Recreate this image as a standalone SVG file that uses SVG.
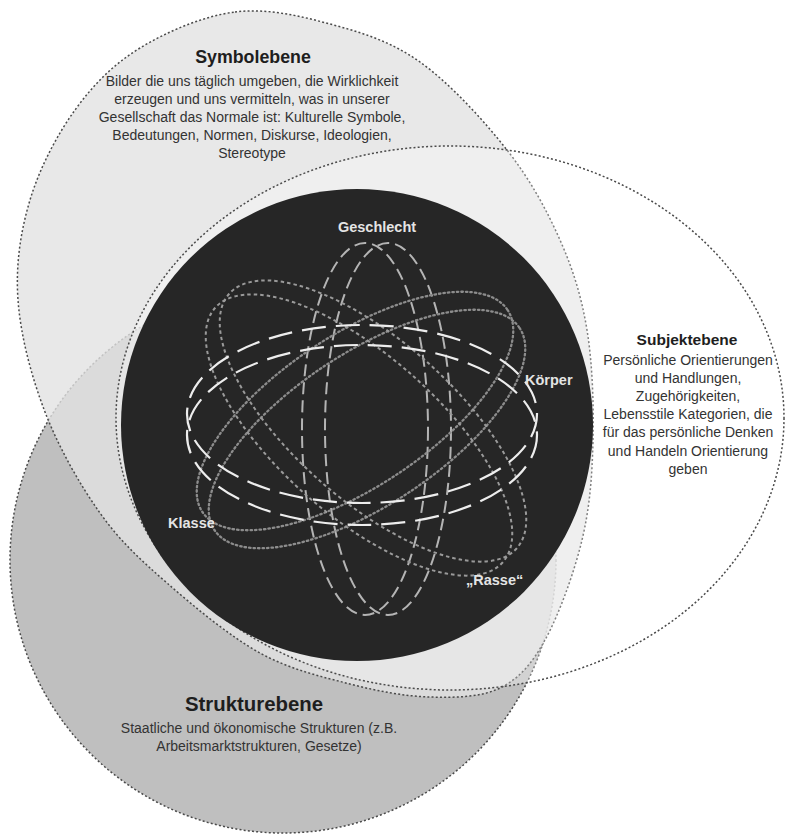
<svg xmlns="http://www.w3.org/2000/svg" width="786" height="838" viewBox="0 0 786 838">
<style>
.border{stroke:#4a4a4a;stroke-width:1.5;stroke-dasharray:2 2.2;}
.title{font-family:"Liberation Sans",Arial,sans-serif;font-weight:bold;fill:#1e1e1e;text-anchor:middle;}
.body{font-family:"Liberation Sans",Arial,sans-serif;font-size:14px;fill:#333;text-anchor:middle;}
.lbl{font-family:"Liberation Sans",Arial,sans-serif;font-weight:bold;font-size:14.5px;fill:#e4e4e4;}
.orb{fill:none;}
.gesch{stroke:#b4b4b4;stroke-width:2;stroke-dasharray:12 6;}
.koer{stroke:#ededed;stroke-width:2.2;stroke-dasharray:24 10;}
.klas{stroke:#8c8c8c;stroke-width:2.3;stroke-dasharray:1.5 3;stroke-linecap:round;}
.rass{stroke:#9a9a9a;stroke-width:2;stroke-dasharray:3.5 3;}
</style>
<rect width="786" height="838" fill="#ffffff"/>
<g id="strukturebene">
<circle cx="283" cy="560" r="273" fill="#bfbfbf" class="border"/>
<text class="title" x="254" y="711" font-size="20.4">Strukturebene</text>
<text class="body" x="259" y="733">Staatliche und ökonomische Strukturen (z.B.</text>
<text class="body" x="259" y="751">Arbeitsmarktstrukturen, Gesetze)</text>
</g>
<g id="symbolebene">
<path d="M235,12 C266.7,8 299.2,15.7 330,24 C360.8,32.3 390.5,41 420,62 C449.5,83 483.7,120.3 507,150 C530.3,179.7 546.7,210 560,240 C573.3,270 581.5,296.7 587,330 C592.5,363.3 593.8,405 593,440 C592.2,475 590,506.7 582,540 C574,573.3 558.7,615.3 545,640 C531.3,664.7 519.2,678.5 500,688 C480.8,697.5 455,697.7 430,697 C405,696.3 378.3,691.3 350,684 C321.7,676.7 290.5,669.8 260,653 C229.5,636.2 193.7,606.3 167,583 C140.3,559.7 120.3,541.5 100,513 C79.7,484.5 58.7,447.5 45,412 C31.3,376.5 20.5,335.3 18,300 C15.5,264.7 20.5,231.7 30,200 C39.5,168.3 56.7,135.3 75,110 C93.3,84.7 113.3,64.3 140,48 C166.7,31.7 203.3,16 235,12 Z" fill="#e2e2e2" fill-opacity="0.79" class="border"/>
<text class="title" x="253" y="63" font-size="17.8">Symbolebene</text>
<text class="body" x="252" y="86">Bilder die uns täglich umgeben, die Wirklichkeit</text>
<text class="body" x="252" y="104">erzeugen und uns vermitteln, was in unserer</text>
<text class="body" x="252" y="122">Gesellschaft das Normale ist: Kulturelle Symbole,</text>
<text class="body" x="252" y="140">Bedeutungen, Normen, Diskurse, Ideologien,</text>
<text class="body" x="252" y="158">Stereotype</text>
</g>
<g id="subjektebene">
<ellipse cx="450" cy="418" rx="334" ry="272" fill="#ffffff" fill-opacity="0.3" class="border"/>
<text class="title" x="687" y="345" font-size="15.5">Subjektebene</text>
<text class="body" x="688" y="365">Persönliche Orientierungen</text>
<text class="body" x="688" y="383">und Handlungen,</text>
<text class="body" x="688" y="401">Zugehörigkeiten,</text>
<text class="body" x="688" y="419">Lebensstile Kategorien, die</text>
<text class="body" x="688" y="437">für das persönliche Denken</text>
<text class="body" x="688" y="456">und Handeln Orientierung</text>
<text class="body" x="688" y="474">geben</text>
</g>
<g id="kern">
<circle cx="357" cy="425" r="236" fill="#262626"/>
</g>
<g id="orbit-geschlecht">
<ellipse class="orb gesch" cx="365" cy="429" rx="63" ry="186"/>
<ellipse class="orb gesch" cx="388" cy="429" rx="63" ry="186"/>
<text class="lbl" x="377" y="232" text-anchor="middle">Geschlecht</text>
</g>
<g id="orbit-klasse">
<ellipse class="orb klas" cx="355" cy="411" rx="183" ry="76" transform="rotate(-33.5 355 411)"/>
<ellipse class="orb klas" cx="367" cy="429" rx="183" ry="76" transform="rotate(-33.5 367 429)"/>
<text class="lbl" x="168" y="528">Klasse</text>
</g>
<g id="orbit-rasse">
<ellipse class="orb rass" cx="359" cy="435" rx="192" ry="80" transform="rotate(41.5 359 435)"/>
<ellipse class="orb rass" cx="373" cy="421" rx="192" ry="80" transform="rotate(41.5 373 421)"/>
<text class="lbl" x="466" y="585">„Rasse“</text>
</g>
<g id="orbit-koerper">
<ellipse class="orb koer" cx="362" cy="414" rx="175" ry="89"/>
<ellipse class="orb koer" cx="362" cy="435" rx="175" ry="90"/>
<text class="lbl" x="525" y="385">Körper</text>
</g>
</svg>
